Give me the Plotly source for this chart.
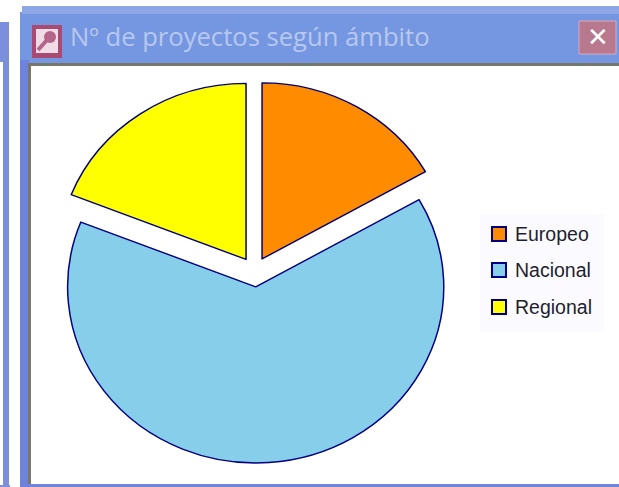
import plotly.graph_objects as go

W, H = 619, 487
categories = ["Europeo", "Nacional", "Regional"]
values = [16.75, 64.25, 19.0]
pulls = [0.08, 0.09, 0.08]
colors = ["#FF8C00", "#87CEEB", "#FFFF00"]
edge = "#000080"
title_text = "Nº de proyectos según ámbito"


def px(x):
    return x / W


def py(y):
    return 1 - y / H


def rect(x0, y0, x1, y1, fill, line=None, width=0):
    return dict(type="rect", xref="paper", yref="paper", x0=px(x0), x1=px(x1), y0=py(y0), y1=py(y1),
                fillcolor=fill, line=dict(color=line or fill, width=width), layer="below")


shapes = [
    rect(0, 0, 619, 487, "#FFFFFF"),
    rect(0, 22, 9, 487, "#7C8FDD"),
    rect(0, 62, 3, 487, "#FFFFFF"),
    rect(0, 485, 10, 487, "#7C8FDD"),
    rect(20, 12, 619, 65, "#7596E0"),
    rect(22, 6, 619, 14, "#8CA6E6"),
    rect(20, 60, 29, 487, "#6F82DC"),
    rect(20, 484, 619, 487, "#6F82DC"),
    rect(28, 63, 619, 66, "#77776A"),
    rect(28, 63, 31, 484, "#77776A"),
    rect(31, 66, 619, 484, "#FFFFFF"),
    # window icon and close button
    rect(32, 25, 62, 58, "#A94A72"),
    rect(36, 29, 58, 53, "#F0DCE6"),
    dict(type="circle", xref="paper", yref="paper", x0=px(44), x1=px(56), y0=py(31), y1=py(43),
         fillcolor="#B5658A", line=dict(width=0), layer="below"),
    dict(type="line", xref="paper", yref="paper", x0=px(47), x1=px(38), y0=py(40), y1=py(50),
         line=dict(color="#B5658A", width=4), layer="below"),
    rect(579, 21, 616, 54, "#B8788E", "#D9A9B8", 1),
    # legend box
    rect(480, 214, 604, 332, "#FBFBFF"),
]

annotations = [
    dict(text=title_text, xref="paper", yref="paper", x=px(68), y=py(37), xanchor="left", yanchor="middle",
         showarrow=False, font=dict(family="Open Sans", size=25.6, color="#B7C8EF")),
    dict(text="✕", xref="paper", yref="paper", x=px(597.5), y=py(37), xanchor="center", yanchor="middle",
         showarrow=False, font=dict(family="DejaVu Sans", size=26, color="#FFFFFF")),
]

legend_y = [234, 270, 307]
for name, color, y in zip(categories, colors, legend_y):
    shapes.append(rect(492, y - 7, 506, y + 7, color, edge, 2))
    annotations.append(dict(text=name, xref="paper", yref="paper", x=px(513), y=py(y), xanchor="left",
                            yanchor="middle", showarrow=False,
                            font=dict(family="Liberation Sans", size=19.5, color="#1F1F2E")))

fig = go.Figure(go.Pie(
    labels=categories, values=values, pull=pulls, sort=False, direction="clockwise", rotation=0,
    marker=dict(colors=colors, line=dict(color=edge, width=1.5)),
    textinfo="none", hoverinfo="label+percent",
    domain=dict(x=[px(49.5), px(459.5)], y=[py(475), py(65)]),
))
fig.update_layout(width=W, height=H, margin=dict(l=0, r=0, t=0, b=0), showlegend=False,
                  paper_bgcolor="#FFFFFF", shapes=shapes, annotations=annotations)

# The reference pie is slightly flattened vertically (an ellipse), which Plotly's pie cannot do by itself.
squash = 0.936
anchor_y = 287
post = (
    "document.body.style.margin='0';document.body.style.overflow='hidden';"
    f"document.querySelectorAll('.pielayer').forEach(function(g){{g.setAttribute('transform',"
    f"'translate(0,{anchor_y * (1 - squash):.3f}) scale(1,{squash})');}});"
)
fig.write_html("out.html", config={"displayModeBar": False}, post_script=post)
